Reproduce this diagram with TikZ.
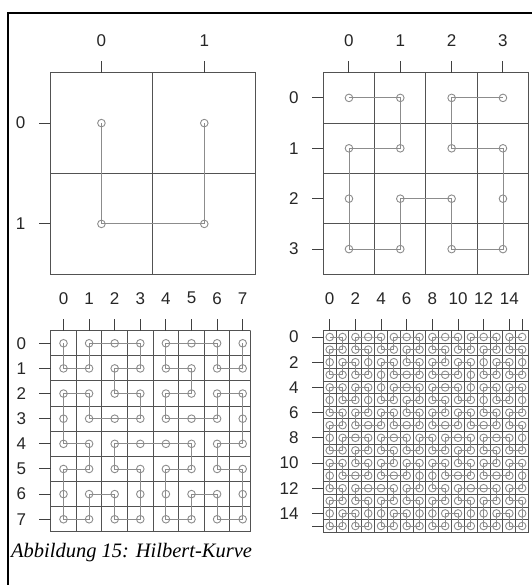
\documentclass[tikz,border=0pt]{standalone}
\usepackage{fontspec}
\setmainfont{Liberation Sans}
\newfontfamily\capfont{Liberation Serif}
\usetikzlibrary{lindenmayersystems}

\pgfdeclarelindenmayersystem{Hilbert}{
  \rule{L -> +RF-LFL-FR+}
  \rule{R -> -LF+RFR+FL-}}

% one panel: x0, y0, cell width, cell height, cells per side, order
\newcommand{\hilbertpanel}[6]{%
  \pgfmathtruncatemacro\lastcell{#5-1}
  \foreach \k in {1,...,\lastcell} {
    \draw[gridline] ({#1+\k*#3},#2) -- ({#1+\k*#3},{#2+#5*#4});
    \draw[gridline] (#1,{#2+\k*#4}) -- ({#1+#5*#3},{#2+\k*#4});
  }
  \draw[gridline] (#1,#2) rectangle ({#1+#5*#3},{#2+#5*#4});
  \begin{scope}[shift={({#1+#3/2},{#2+#4/2})}, xscale=#3, yscale=-#4]
    \draw[curve, lindenmayer system={Hilbert, axiom=L, order=#6, step=1pt, angle=90}] (0,0) lindenmayer system;
  \end{scope}
  \foreach \i in {0,...,\lastcell}
    \foreach \j in {0,...,\lastcell}
      \draw[dot] ({#1+(\i+0.5)*#3},{#2+(\j+0.5)*#4}) circle (3.8pt);
}

% axes: x0, y0, cell width, cell height, ticked cells, labelled cells, prefix
\newcommand{\hilbertaxes}[7]{%
  \foreach \k in {#5} {
    \draw[tick] ({#1+(\k+0.5)*#3},#2) -- ++(0,-11.5);
    \draw[tick] (#1,{#2+(\k+0.5)*#4}) -- ++(-11.5,0);
  }
  \foreach \k in {#6} {
    \node[lab] (#7top\k) at ({#1+(\k+0.5)*#3},{#2-32.5}) {\k};
    \node[lab, anchor=east] (#7left\k) at ({#1-24.5},{#2+(\k+0.5)*#4}) {\k};
  }
}

\begin{document}
\begin{tikzpicture}[
  x=1pt, y=-1pt,
  gridline/.style={draw=black!68, line width=1pt},
  tick/.style={draw=black!75, line width=1pt},
  curve/.style={draw=black!45, line width=0.9pt},
  dot/.style={draw=black!45, line width=0.9pt},
  lab/.style={inner sep=0pt, font=\fontsize{17}{17}\selectfont, text=black!85}
]
\useasboundingbox (0,0) rectangle (531,585);

% frame
\draw[line width=2pt] (7.7,590) -- (7.7,12.7) -- (536,12.7);

% order 1
\hilbertpanel{50}{72.7}{102.85}{100.8}{2}{1}
\hilbertaxes{50}{72.7}{102.85}{100.8}{0,1}{0,1}{a}

% order 2
\hilbertpanel{323.3}{72.7}{51.33}{50.4}{4}{2}
\hilbertaxes{323.3}{72.7}{51.33}{50.4}{0,...,3}{0,...,3}{b}

% order 3 (cut at the right)
\begin{scope}
  \clip (0,0) rectangle (250.7,585);
  \hilbertpanel{50.7}{330.7}{25.6}{25.14}{8}{3}
\end{scope}
\draw[gridline] (250.7,330.7) -- (250.7,531.8);
\hilbertaxes{50.7}{330.7}{25.6}{25.14}{0,...,7}{0,...,7}{c}

% order 4
\hilbertpanel{323.3}{330.7}{12.83}{12.6}{16}{4}
\hilbertaxes{323.3}{330.7}{12.83}{12.6}{0,2,...,14,15}{0,2,...,14}{d}

\node[anchor=base west, inner sep=0pt, font={\capfont\itshape\fontsize{20.5}{24}\selectfont}] (caption) at (11,557) {Abbildung 15: Hilbert-Kurve};
\end{tikzpicture}
\end{document}
